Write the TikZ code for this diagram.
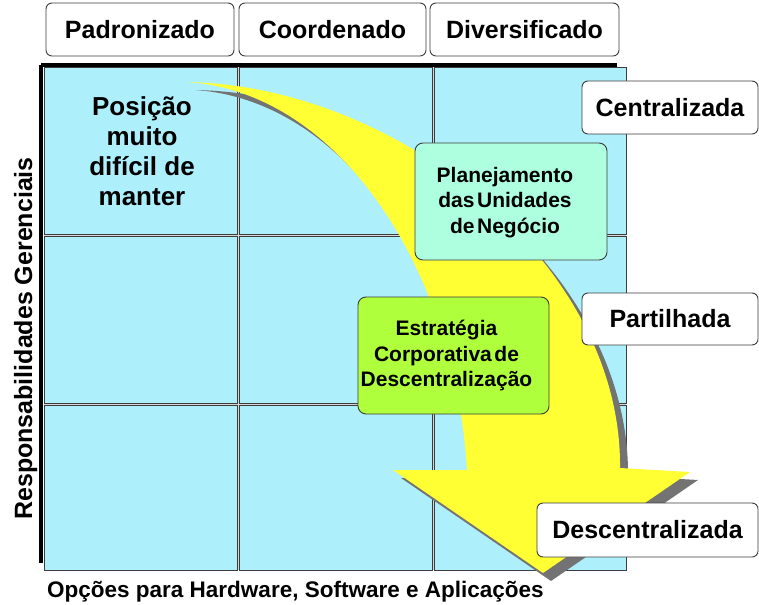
\documentclass[tikz,border=0pt]{standalone}
\usepackage{fontspec}
\setmainfont{Liberation Sans}
\newfontfamily\boxfont[WordSpace=0.45]{Liberation Sans}
\definecolor{cellc}{RGB}{174,239,252}
\definecolor{arrowy}{RGB}{255,255,51}
\definecolor{mint}{RGB}{174,255,224}
\definecolor{lime}{RGB}{176,255,60}
\definecolor{shadowg}{RGB}{115,115,115}
\definecolor{edgec}{RGB}{60,60,60}
\definecolor{gapc}{RGB}{215,215,215}
\tikzset{
  cell/.style={fill=cellc, draw=edgec, line width=0.9pt},
  labelbox/.style={draw=edgec, fill=white, line width=0.9pt, rounded corners=6pt, inner sep=0pt,
    font=\fontsize{25}{30}\selectfont\bfseries},
  innerbox/.style={draw=edgec, line width=0.9pt, rounded corners=8pt, inner sep=0pt},
  innertext/.style={inner sep=0pt, align=center,
    font=\boxfont\fontsize{21}{25.5}\selectfont\bfseries},
  axisline/.style={line width=3.5pt, black},
  axistext/.style={inner sep=0pt, font=\fontsize{22.5}{27}\selectfont\bfseries}
}
\begin{document}
\begin{tikzpicture}[x=1pt,y=-1pt]
\useasboundingbox (0,0) rectangle (759,604);
% grid
\fill[gapc] (44,67) rectangle (626,570);
\foreach \xa/\xb in {44/237.5, 239.5/432, 434/626}
  \foreach \ya/\yb in {67/234.5, 236.5/403, 405/570}
    \draw[cell] (\xa,\ya) rectangle (\xb,\yb);
% axes
\draw[axisline] (41,65) -- (617,65);
\draw[axisline] (41,65) -- (41,563);
% arrow shadow
\fill[shadowg, shift={(8,8)}] (187,82) .. controls (400,86) and (622,265) .. (620,468)
  -- (690,472) -- (543,573) -- (393,470) -- (467,470)
  .. controls (455,270) and (340,92) .. cycle;
% arrow
\fill[arrowy] (187,82) .. controls (400,86) and (622,265) .. (620,468)
  -- (690,472) -- (543,573) -- (393,470) -- (467,470)
  .. controls (455,270) and (340,92) .. cycle;
% header boxes
\node[labelbox, minimum width=188pt, minimum height=53pt] (pad) at (140,29.5) {Padronizado};
\node[labelbox, minimum width=187pt, minimum height=53pt] (coo) at (332.5,29.5) {Coordenado};
\node[labelbox, minimum width=189pt, minimum height=53pt] (div) at (524.5,29.5) {Diversificado};
% right boxes
\node[labelbox, minimum width=176pt, minimum height=53pt] (cen) at (670,107.5) {Centralizada};
\node[labelbox, minimum width=176pt, minimum height=52pt] (par) at (670,319) {Partilhada};
\node[labelbox, minimum width=221pt, minimum height=54pt] (des) at (647.5,530) {Descentralizada};
% inner boxes
\node[innerbox, fill=mint, minimum width=192pt, minimum height=117pt] (pla) at (511,201.5) {};
\node[innertext] (plat) at ([xshift=-6pt, yshift=-1pt]pla.center)
  {Planejamento\\das Unidades\\de Negócio};
\node[innerbox, fill=lime, minimum width=191pt, minimum height=117pt] (est) at (453.5,355.5) {};
\node[innertext] (estt) at ([xshift=-7pt]est.center)
  {Estratégia\\Corporativa de\\Descentralização};
% corner text
\node[align=center, inner sep=0pt, font=\fontsize{26}{30}\selectfont\bfseries] (pos) at (142,151)
  {Posição\\muito\\difícil de\\manter};
% axis labels
\node[axistext, anchor=base west] (xl) at (47,597) {Opções para Hardware, Software e Aplicações};
\node[inner sep=0pt, font=\fontsize{25}{30}\selectfont\bfseries, rotate=90, anchor=base] (yl) at (32,338.5)
  {Responsabilidades Gerenciais};
\end{tikzpicture}
\end{document}
